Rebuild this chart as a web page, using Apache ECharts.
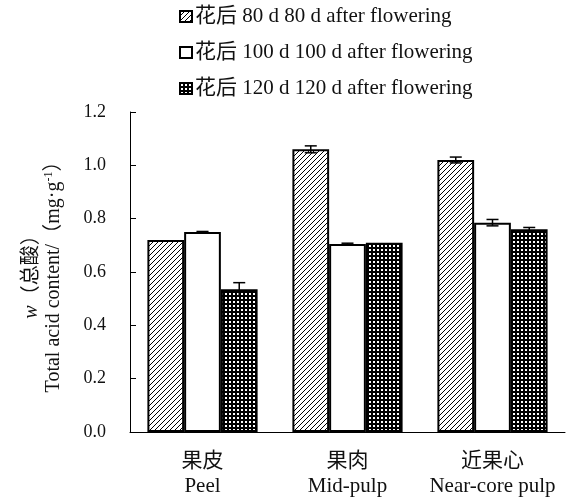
<!DOCTYPE html>
<html lang="zh">
<head>
    <meta charset="UTF-8">
    <title>总酸含量</title>
    <script src="https://cdn.jsdelivr.net/npm/echarts@6/dist/echarts.min.js"></script>
    <style>
        html, body { margin: 0; padding: 0; background: #fff; }
        #chart { width: 570px; height: 501px; }
    </style>
</head>
<body>
<div id="chart"></div>
<script>
  // 数据
  var categories = ['果皮\nPeel', '果肉\nMid-pulp', '近果心\nNear-core pulp'];
  var seriesNames = ['花后 80 d 80 d after flowering', '花后 100 d 100 d after flowering', '花后 120 d 120 d after flowering'];
  var d80 = [0.72, 1.06, 1.02];
  var d100 = [0.75, 0.705, 0.785];
  var d120 = [0.535, 0.71, 0.76];
  var e80 = [0, 0.013, 0.011];
  var e100 = [0.002, 0.003, 0.012];
  var e120 = [0.025, 0, 0.007];
  var yTicks = [0, 0.2, 0.4, 0.6, 0.8, 1.0, 1.2];

  var FONT = '"Liberation Serif", "Times New Roman", "Noto Sans CJK SC", serif';

  // 斜线填充
  function hatchPattern() {
    var c = document.createElement('canvas');
    c.width = 5; c.height = 5;
    var ctx = c.getContext('2d');
    ctx.fillStyle = '#fff';
    ctx.fillRect(0, 0, 5, 5);
    ctx.strokeStyle = '#000';
    ctx.lineWidth = 1;
    ctx.beginPath();
    ctx.moveTo(-1, 6); ctx.lineTo(6, -1);
    ctx.stroke();
    return c;
  }

  // 黑底白点
  function dotPattern() {
    var c = document.createElement('canvas');
    c.width = 4; c.height = 4;
    var ctx = c.getContext('2d');
    ctx.fillStyle = '#000';
    ctx.fillRect(0, 0, 4, 4);
    ctx.fillStyle = '#fff';
    ctx.fillRect(1, 1, 2, 2);
    return c;
  }

  var fills = [
    { image: hatchPattern(), repeat: 'repeat' },
    '#fff',
    { image: dotPattern(), repeat: 'repeat' }
  ];
  var values = [d80, d100, d120];
  var errors = [e80, e100, e120];
  var catGap = 0.24;

  function errSeries(k) {
    var data = [];
    for (var i = 0; i < categories.length; i++) {
      data.push([i, values[k][i], errors[k][i]]);
    }
    return {
      type: 'custom',
      name: seriesNames[k] + '_err',
      z: 10,
      silent: true,
      encode: { x: 0, y: 1 },
      data: data,
      renderItem: function (params, api) {
        var x = api.value(0), v = api.value(1), e = api.value(2);
        if (!e) return null;
        var band = api.size([1, 0])[0];
        var barW = band * (1 - catGap) / 3;
        var cx = api.coord([x, v])[0] + (k - 1) * barW;
        var yTop = api.coord([x, v + e])[1];
        var yBot = api.coord([x, v - e])[1];
        var hw = 6;
        var st = { stroke: '#000', lineWidth: 1.5 };
        return {
          type: 'group',
          children: [
            { type: 'line', shape: { x1: cx, y1: yTop, x2: cx, y2: yBot }, style: st },
            { type: 'line', shape: { x1: cx - hw, y1: yTop, x2: cx + hw, y2: yTop }, style: st },
            { type: 'line', shape: { x1: cx - hw, y1: yBot, x2: cx + hw, y2: yBot }, style: st }
          ]
        };
      }
    };
  }

  var series = [];
  for (var k = 0; k < 3; k++) {
    series.push({
      name: seriesNames[k],
      type: 'bar',
      barGap: '0%',
      barCategoryGap: (catGap * 100) + '%',
      itemStyle: {
        color: fills[k],
        borderColor: '#000',
        borderWidth: 2
      },
      data: values[k]
    });
  }
  for (var k2 = 0; k2 < 3; k2++) {
    series.push(errSeries(k2));
  }

  var options = {
    animation: false,
    backgroundColor: '#fff',
    legend: {
      data: seriesNames,
      orient: 'vertical',
      left: 174,
      top: 1,
      itemWidth: 12,
      itemHeight: 11,
      itemGap: 15,
      icon: 'rect',
      itemStyle: { borderColor: '#000', borderWidth: 2 },
      textStyle: { fontFamily: FONT, fontSize: 21, color: '#111', padding: [0, 0, 0, -2] }
    },
    grid: {
      left: 130,
      right: 5,
      top: 112,
      bottom: 69
    },
    xAxis: {
      type: 'category',
      data: categories,
      axisLine: { lineStyle: { color: '#000', width: 1 } },
      axisTick: { inside: true, length: 5, lineStyle: { color: '#000' } },
      axisLabel: {
        interval: 0,
        fontFamily: FONT,
        fontSize: 21,
        color: '#111',
        lineHeight: 25,
        margin: 17
      }
    },
    yAxis: {
      type: 'value',
      min: yTicks[0],
      max: yTicks[yTicks.length - 1],
      interval: 0.2,
      name: '{i|w}（总酸）\nTotal acid content/（mg·g{sup|-1}）',
      nameLocation: 'middle',
      nameGap: 65,
      nameRotate: 90,
      nameTextStyle: {
        fontFamily: FONT,
        fontSize: 20,
        color: '#111',
        lineHeight: 22,
        rich: {
          i: { fontFamily: FONT, fontSize: 20, fontStyle: 'italic', color: '#111' },
          sup: { fontFamily: FONT, fontSize: 12, color: '#111', verticalAlign: 'top', lineHeight: 22 }
        }
      },
      axisLine: { show: true, lineStyle: { color: '#000', width: 1 } },
      axisTick: { show: true, inside: true, length: 6, lineStyle: { color: '#000' } },
      splitLine: { show: false },
      axisLabel: {
        fontFamily: FONT,
        fontSize: 18,
        color: '#111',
        margin: 24,
        formatter: function (v) { return v.toFixed(1); }
      }
    },
    series: series
  };

  var myChart = echarts.init(document.getElementById('chart'));
  myChart.setOption(options);
</script>
</body>
</html>
